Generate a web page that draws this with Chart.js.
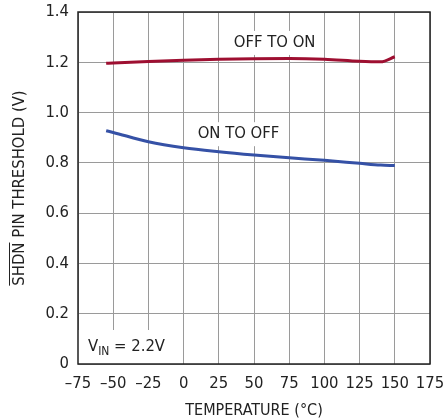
<!DOCTYPE html>
<html>
<head>
<meta charset="utf-8">
<script src="https://cdn.jsdelivr.net/npm/chart.js@4/dist/chart.umd.min.js"></script>
<style>
  html, body { margin: 0; padding: 0; background: #fff; }
  #wrap { width: 444px; height: 419px; }
</style>
</head>
<body>
<div id="wrap"><canvas id="chart" width="444" height="419"></canvas></div>
<script>
const FONT = '"Liberation Sans Narrow", "DejaVu Sans Condensed", Arial, sans-serif';

const temps = [-55, -50, -25, 0, 25, 50, 75, 100, 125, 140, 150];
const offToOn = [1.196, 1.197, 1.203, 1.208, 1.212, 1.214, 1.215, 1.212, 1.204, 1.202, 1.222];
const onToOff = [0.928, 0.921, 0.884, 0.860, 0.844, 0.831, 0.820, 0.810, 0.798, 0.791, 0.789];
const xTicks = [-75, -50, -25, 0, 25, 50, 75, 100, 125, 150, 175];
const yTicks = [0, 0.2, 0.4, 0.6, 0.8, 1.0, 1.2, 1.4];

const toPoints = (vals) => temps.map((t, i) => ({ x: t, y: vals[i] }));

// white label boxes + the axis title with the overlined SHDN
const labelPlugin = {
    id: 'labels',
    beforeDatasetsDraw(chart) {
        const ctx = chart.ctx;
        const xs = chart.scales.x;
        const ys = chart.scales.y;
        const area = chart.chartArea;
        ctx.save();
        ctx.fillStyle = '#fff';
        // curve labels
        ctx.font = '16.5px ' + FONT;
        ctx.textBaseline = 'middle';
        ctx.textAlign = 'center';
        const labels = [
            { text: 'OFF TO ON', x: xs.getPixelForValue(64.6), y: ys.getPixelForValue(1.277) },
            { text: 'ON TO OFF', x: xs.getPixelForValue(39), y: ys.getPixelForValue(0.914) }
        ];
        labels.forEach((l) => {
            const w = ctx.measureText(l.text).width;
            ctx.fillStyle = '#fff';
            ctx.fillRect(l.x - w / 2 - 5, l.y - 12, w + 10, 24);
            ctx.fillStyle = '#222';
            ctx.fillText(l.text, l.x, l.y);
        });
        // VIN box
        ctx.fillStyle = '#fff';
        ctx.fillRect(area.left, area.bottom - 34, 92, 34);
        ctx.fillStyle = '#222';
        ctx.textAlign = 'left';
        ctx.textBaseline = 'alphabetic';
        let x = area.left + 10;
        const base = area.bottom - 13;
        ctx.font = '16.5px ' + FONT;
        ctx.fillText('V', x, base);
        x += ctx.measureText('V').width;
        ctx.font = '12px ' + FONT;
        ctx.fillText('IN', x, base + 4);
        x += ctx.measureText('IN').width;
        ctx.font = '16.5px ' + FONT;
        ctx.fillText(' = 2.2V', x, base);
        ctx.restore();
    },
    afterDraw(chart) {
        const ctx = chart.ctx;
        const area = chart.chartArea;
        ctx.save();
        ctx.strokeStyle = '#222';
        ctx.lineWidth = 1.5;
        ctx.strokeRect(area.left, area.top, area.right - area.left, area.bottom - area.top);

        // y axis title
        ctx.translate(20, (area.top + area.bottom) / 2);
        ctx.rotate(-Math.PI / 2);
        ctx.font = '16.5px ' + FONT;
        ctx.fillStyle = '#222';
        ctx.textBaseline = 'middle';
        const full = 'SHDN PIN THRESHOLD (V)';
        const wFull = ctx.measureText(full).width;
        const wShdn = ctx.measureText('SHDN').width;
        ctx.textAlign = 'left';
        ctx.fillText(full, -wFull / 2, 0);
        ctx.lineWidth = 1;
        ctx.beginPath();
        ctx.moveTo(-wFull / 2, -10.5);
        ctx.lineTo(-wFull / 2 + wShdn, -10.5);
        ctx.stroke();
        ctx.restore();
    }
};

new Chart(document.getElementById('chart'), {
    type: 'line',
    data: {
        datasets: [
            {
                label: 'OFF TO ON',
                data: toPoints(offToOn),
                borderColor: '#9e0f31',
                borderWidth: 3,
                pointRadius: 0,
                cubicInterpolationMode: 'monotone'
            },
            {
                label: 'ON TO OFF',
                data: toPoints(onToOff),
                borderColor: '#3551a6',
                borderWidth: 3,
                pointRadius: 0,
                cubicInterpolationMode: 'monotone'
            }
        ]
    },
    options: {
        responsive: false,
        animation: false,
        events: [],
        layout: { padding: { top: 12, right: 14, left: 0, bottom: 0 } },
        plugins: {
            legend: { display: false },
            tooltip: { enabled: false }
        },
        scales: {
            x: {
                type: 'linear',
                min: -75,
                max: 175,
                afterBuildTicks: (axis) => { axis.ticks = xTicks.map((v) => ({ value: v })); },
                afterFit: (axis) => {
                    axis.height = 55;
                    axis.paddingLeft = 0;
                    axis.paddingRight = 0;
                },
                grid: { color: '#9a9a9a', lineWidth: 1, drawTicks: false },
                border: { display: false },
                ticks: {
                    padding: 10,
                    color: '#222',
                    font: { family: FONT, size: 16.5 },
                    maxRotation: 0,
                    callback: (v) => (v < 0 ? '\u2013' + Math.abs(v) : String(v))
                },
                title: {
                    display: true,
                    text: 'TEMPERATURE (\u00b0C)',
                    color: '#222',
                    font: { family: FONT, size: 16, lineHeight: 1.0 },
                    padding: { top: 2, bottom: 0 }
                }
            },
            y: {
                min: 0,
                max: 1.4,
                afterBuildTicks: (axis) => { axis.ticks = yTicks.map((v) => ({ value: v })); },
                afterFit: (axis) => {
                    axis.width = 78;
                    axis.paddingTop = 0;
                    axis.paddingBottom = 0;
                },
                grid: { color: '#9a9a9a', lineWidth: 1, drawTicks: false },
                border: { display: false },
                ticks: {
                    padding: 9,
                    color: '#222',
                    font: { family: FONT, size: 16.5 },
                    callback: (v) => (v === 0 ? '0' : v.toFixed(1))
                }
            }
        }
    },
    plugins: [labelPlugin]
});
</script>
</body>
</html>
